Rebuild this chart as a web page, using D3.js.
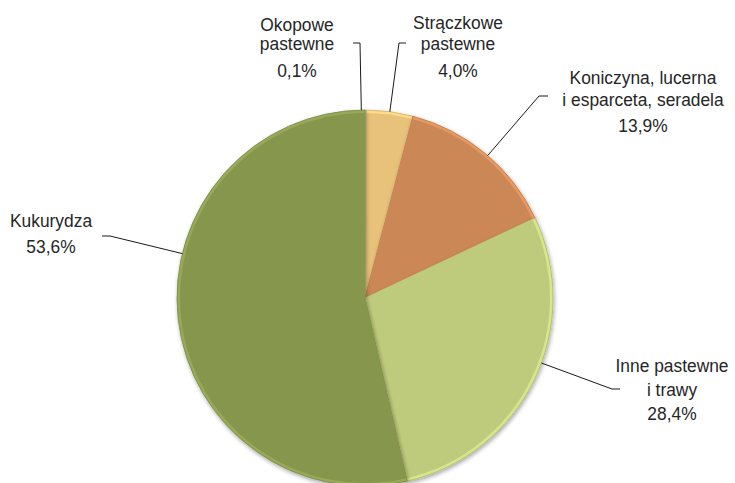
<!DOCTYPE html>
<html>
<head>
<meta charset="utf-8">
<script src="https://cdn.jsdelivr.net/npm/d3@7"></script>
<style>
  body { margin: 0; background: #fff; }
  svg text { font-family: "Liberation Sans", Arial, sans-serif; font-size: 18.5px; fill: #262626; }
</style>
</head>
<body>
<figure style="margin:0"></figure>
<script>
// data
var categories = ["Okopowe pastewne", "Strączkowe pastewne", "Koniczyna, lucerna i esparceta, seradela", "Inne pastewne i trawy", "Kukurydza"];
var values = [0.1, 4.0, 13.9, 28.4, 53.6];
var valueLabels = ["0,1%", "4,0%", "13,9%", "28,4%", "53,6%"];
var labelLines = [["Okopowe", "pastewne"], ["Strączkowe", "pastewne"], ["Koniczyna, lucerna", "i esparceta, seradela"], ["Inne pastewne", "i trawy"], ["Kukurydza"]];
var colors = ["#c9c9b0", "#e8c27a", "#cc8756", "#bfcb7b", "#86964d"];

var width = 735, height = 483;
var cx = 365, cy = 298, radius = 188;

// label layout: text centre x, baselines, leader anchor and tick direction
var layout = [
  {x: 297, y: [31, 50, 77], ax: 360, ay: 43, tick: -7},
  {x: 458, y: [29, 50, 77], ax: 399, ay: 43, tick: 7},
  {x: 643, y: [84, 106, 132], ax: 539, ay: 96, tick: 9},
  {x: 672, y: [372, 396, 420], ax: 612, ay: 389, tick: 8},
  {x: 51, y: [227, 253], ax: 110, ay: 236, tick: -8}
];

var svg = d3.select("figure").append("svg")
    .attr("width", width)
    .attr("height", height);

var defs = svg.append("defs");
var shadow = defs.append("filter").attr("id", "shadow")
    .attr("x", "-10%").attr("y", "-10%").attr("width", "120%").attr("height", "120%");
shadow.append("feGaussianBlur").attr("in", "SourceAlpha").attr("stdDeviation", 2).attr("result", "b");
shadow.append("feOffset").attr("in", "b").attr("dx", 1).attr("dy", 2).attr("result", "o");
shadow.append("feComponentTransfer").attr("in", "o").attr("result", "s")
    .append("feFuncA").attr("type", "linear").attr("slope", 0.35);
var merge = shadow.append("feMerge");
merge.append("feMergeNode").attr("in", "s");
merge.append("feMergeNode").attr("in", "SourceGraphic");

var pie = d3.pie().sort(null).value(function(d) { return d; });
var arcs = pie(values);

var arc = d3.arc().innerRadius(0).outerRadius(radius);
var inner = d3.arc().innerRadius(0).outerRadius(radius - 3);

var g = svg.append("g")
    .attr("transform", "translate(" + cx + "," + cy + ")");

var slices = g.selectAll("g.slice")
    .data(arcs)
    .enter().append("g")
    .attr("class", "slice")
    .attr("filter", "url(#shadow)");

// bevel: lighter rim, then base colour inside
slices.append("path")
    .attr("d", arc)
    .attr("fill", function(d, i) { return d3.color(colors[i]).brighter(0.35); })
    .attr("stroke", function(d, i) { return d3.color(colors[i]).darker(0.3); })
    .attr("stroke-width", 0.8);

slices.append("path")
    .attr("d", inner)
    .attr("fill", function(d, i) { return colors[i]; });

// leader lines
var leaders = svg.append("g").attr("class", "leaders");
layout.forEach(function(l) {
    var dx = l.ax - cx, dy = l.ay - cy;
    var len = Math.sqrt(dx * dx + dy * dy);
    var ex = cx + dx / len * radius, ey = cy + dy / len * radius;
    leaders.append("polyline")
        .attr("points", [[l.ax + l.tick, l.ay], [l.ax, l.ay], [ex, ey]].join(" "))
        .attr("fill", "none")
        .attr("stroke", "#1a1a1a")
        .attr("stroke-width", 1);
});

// labels (slightly condensed like the original)
var labels = svg.append("g").attr("class", "labels");
categories.forEach(function(c, i) {
    var l = layout[i];
    var lines = labelLines[i].concat([valueLabels[i]]);
    lines.forEach(function(t, j) {
        labels.append("text")
            .attr("transform", "translate(" + l.x + "," + l.y[j] + ") scale(0.94,1)")
            .attr("text-anchor", "middle")
            .text(t);
    });
});
</script>
</body>
</html>
